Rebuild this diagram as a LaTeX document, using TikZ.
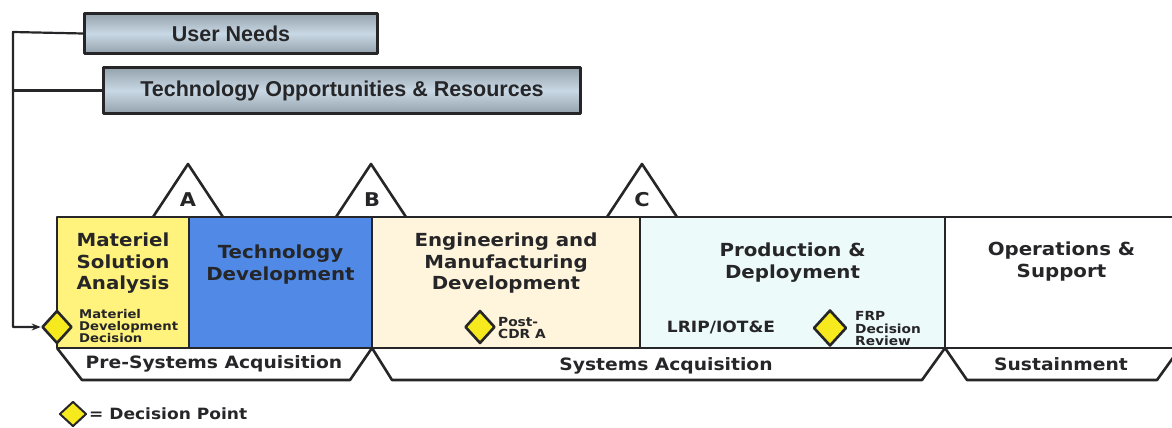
\documentclass[tikz,border=0pt]{standalone}
\usepackage{fontspec}
\setmainfont{DejaVu Sans}[FakeStretch=1.1]
\newfontfamily\arialfont{Liberation Sans}
\usepackage{tikz}
\usetikzlibrary{shapes.geometric, arrows.meta, positioning, calc}
\definecolor{msayellow}{RGB}{255,243,125}
\definecolor{tdblue}{RGB}{80,138,230}
\definecolor{emdpeach}{RGB}{255,245,220}
\definecolor{pdcyan}{RGB}{236,250,249}
\definecolor{dpyellow}{RGB}{246,234,30}
\definecolor{boxgray}{RGB}{148,162,172}
\definecolor{boxlight}{RGB}{200,216,228}
\definecolor{inkdark}{RGB}{38,38,40}
\tikzstyle{arrow} = [line width=2.2pt,draw=inkdark,-{Stealth[length=9pt,width=7pt]}]
\tikzset{
needbox/.style={draw=inkdark, line width=3pt, top color=boxgray, bottom color=boxgray, middle color=boxlight, inner sep=0pt, text=inkdark, font=\arialfont\bfseries\fontsize{21.5}{24}\selectfont},
phasebox/.style={draw=inkdark, line width=2.6pt, minimum height=131pt, inner sep=0pt, outer sep=0pt, anchor=north west},
phasetitle/.style={inner sep=0pt, align=center, text=inkdark, font=\bfseries\fontsize{18}{21.5}\selectfont},
smalllabel/.style={inner sep=0pt, align=left, anchor=west, text=inkdark, font=\bfseries\fontsize{12.5}{12.5}\selectfont},
decision/.style={shape=diamond, draw=inkdark, fill=dpyellow, line width=2.6pt, inner sep=0pt},
milestone/.style={draw=inkdark, fill=white, line width=2.6pt},
milestonelabel/.style={inner sep=0pt, text=inkdark, font=\bfseries\fontsize{19}{21}\selectfont},
band/.style={draw=inkdark, line width=2.6pt},
bandlabel/.style={inner sep=0pt, text=inkdark, font=\bfseries\fontsize{17}{19}\selectfont}
}

\begin{document}
\begin{tikzpicture}[x=1pt, y=-1pt, line join=round]
\useasboundingbox (0,0) rectangle (1172,428);
%----------------------------------------------------------------------------
% Inputs at the top
\node (userNeeds) [needbox, minimum width=293pt, minimum height=40pt, anchor=north west] at (83,12) {User Needs};
\node (techOpp) [needbox, minimum width=477pt, minimum height=46pt, anchor=north west] at (102,66) {Technology Opportunities \& Resources};

%----------------------------------------------------------------------------
% Milestones
\draw[milestone] (153,217) -- (188,164) -- (223,217);
\draw[milestone] (336,217) -- (371,164) -- (406,217);
\draw[milestone] (607,217) -- (642,164) -- (677,217);
\node (msA) [milestonelabel] at (188,200) {A};
\node (msB) [milestonelabel] at (372,200) {B};
\node (msC) [milestonelabel] at (642,200) {C};

%----------------------------------------------------------------------------
% Phases
\node (msa) [phasebox, fill=msayellow, minimum width=132pt] at (57,217) {};
\node (td) [phasebox, fill=tdblue, minimum width=183pt, right=0pt of msa] {};
\node (emd) [phasebox, fill=emdpeach, minimum width=268pt, right=0pt of td] {};
\node (pd) [phasebox, fill=pdcyan, minimum width=305pt, right=0pt of emd] {};
\node (os) [phasebox, fill=white, minimum width=233pt, right=0pt of pd] {};

\node (msaTitle) [phasetitle, below=16pt of msa.north] {Materiel\\Solution\\Analysis};
\node (tdTitle) [phasetitle, below=28pt of td.north] {Technology\\Development};
\node (emdTitle) [phasetitle, below=16pt of emd.north] {Engineering and\\Manufacturing\\Development};
\node (pdTitle) [phasetitle, below=26pt of pd.north] {Production \&\\Deployment};
\node (osTitle) [phasetitle, below=25pt of os.north] {Operations \&\\Support};

%----------------------------------------------------------------------------
% Decision points
\node (mdd) [decision, minimum width=30pt, minimum height=33pt] at (57,327) {};
\node (cdr) [decision, minimum width=30pt, minimum height=33pt] at (480,327) {};
\node (frp) [decision, minimum width=33pt, minimum height=36pt] at (830,328) {};
\node (mddText) [smalllabel, font=\bfseries\fontsize{12}{12}\selectfont] at (79,326) {Materiel\\Development\\Decision};
\node (cdrText) [smalllabel] at (498,328) {Post-\\CDR A};
\node (frpText) [smalllabel] at (855,329) {FRP\\Decision\\Review};
\node (lrip) [bandlabel, font=\bfseries\fontsize{15.5}{17}\selectfont] at (721,327) {LRIP/IOT\&E};

%----------------------------------------------------------------------------
% Lines
\coordinate (spine) at (13,32);
\draw[arrow] (userNeeds.west) -- (spine) |- (mdd.west);
\draw[line width=2.2pt, draw=inkdark] (techOpp.west) -- (techOpp.west -| spine);

%----------------------------------------------------------------------------
% Acquisition periods
\draw[band] (msa.south west) -- ++(25,32) -- ($(td.south east)+(-22,32)$) -- (td.south east);
\draw[band] (emd.south west) -- ++(20,32) -- ($(pd.south east)+(-23,32)$) -- (pd.south east);
\draw[band] (os.south west) -- ++(22,32) -- ++(190,0) -- ++(23,-32);
\node (preLabel) [bandlabel] at (214,364) {Pre-Systems Acquisition};
\node (sysLabel) [bandlabel] at (666,366) {Systems Acquisition};
\node (susLabel) [bandlabel] at (1061,364) {Sustainment};

%----------------------------------------------------------------------------
% Notes
\node (legendDiamond) [decision, minimum width=27pt, minimum height=25pt, line width=2pt] at (73,414) {};
\node (legendText) [bandlabel, font=\bfseries\fontsize{15.5}{17}\selectfont, right=1.5pt of legendDiamond] {= Decision Point};

\end{tikzpicture}
\end{document}
